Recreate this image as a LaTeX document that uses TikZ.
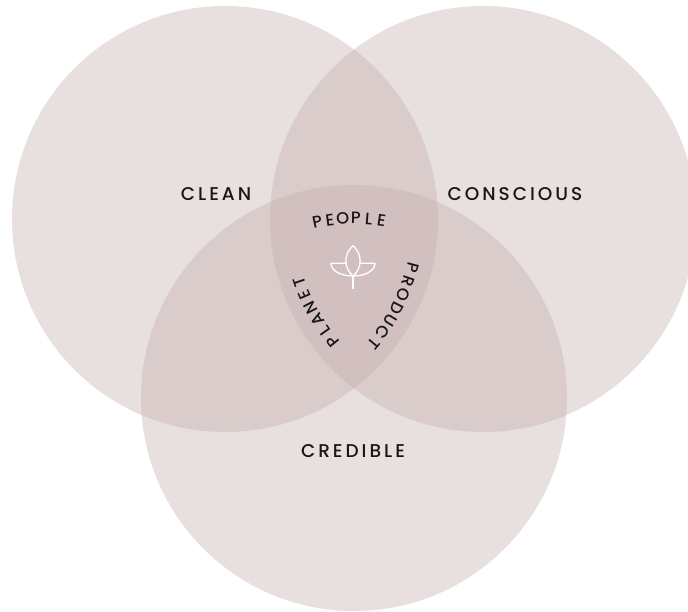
\documentclass[tikz,border=0pt]{standalone}
\usepackage{fontspec}
\setmainfont{Poppins}[UprightFont=* Medium]
\newfontfamily\spaced{Poppins}[UprightFont=* Medium,LetterSpace=16]
\usetikzlibrary{calc}
\definecolor{venn}{RGB}{196,175,173}
\definecolor{ink}{RGB}{25,22,22}

\begin{document}
\begin{tikzpicture}
[x=1pt,y=-1pt,
 set/.style={fill=venn,fill opacity=0.39},
 lab/.style={font=\spaced\fontsize{18.5}{18.5}\selectfont,text=ink,inner sep=0pt},
 ch/.style={font=\fontsize{16.5}{16.5}\selectfont,text=ink,inner sep=0pt,anchor=base},
 leaf/.style={draw=white,line width=1.3pt,line join=round}]
\useasboundingbox (0,0) rectangle (688,612);
\fill[white] (0,0) rectangle (688,612);
\coordinate (l) at (225,219);
\coordinate (r) at (483,219);
\coordinate (b) at (354,398);
% the three sets
\fill[set] (l) circle[radius=213];
\fill[set] (r) circle[radius=213];
\fill[set] (b) circle[radius=213];
\node[lab] (clean) at (216,194) {CLEAN};
\node[lab] (conscious) at (515,194) {CONSCIOUS};
\node[lab] (credible) at (353,451) {CREDIBLE};
% words bent round the middle
\foreach \c [count=\i, evaluate=\i as \a using -101.8+(\i-1)*4.12] in {P,E,O,P,L,E}
  \node[ch,rotate=-\a-90] (people\i) at ($(b)+(\a:174)$) {\c};
\foreach \c [count=\i, evaluate=\i as \a using 14.7+(\i-1)*4.2] in {P,R,O,D,U,C,T}
  \node[ch,rotate=-\a-90] (product\i) at ($(l)+(\a:188)$) {\c};
\foreach \c [count=\i, evaluate=\i as \a using 140.7+(\i-1)*4.05] in {P,L,A,N,E,T}
  \node[ch,rotate=-\a-90] (planet\i) at ($(r)+(\a:188)$) {\c};
% leaf
\begin{scope}[shift={(353,267)}]
\draw[leaf] (0,9) .. controls (-9.5,1) and (-9.5,-13) .. (0,-21.3)
  .. controls (9.5,-13) and (9.5,1) .. (0,9);
\draw[leaf] (-7,-3.7) -- (-22,-3.7) .. controls (-22,4) and (-12,9) .. (0,9);
\draw[leaf] (7,-3.7) -- (22,-3.7) .. controls (22,4) and (12,9) .. (0,9);
\draw[leaf] (0,9) -- (0,22.3);
\end{scope}
\end{tikzpicture}
\end{document}
